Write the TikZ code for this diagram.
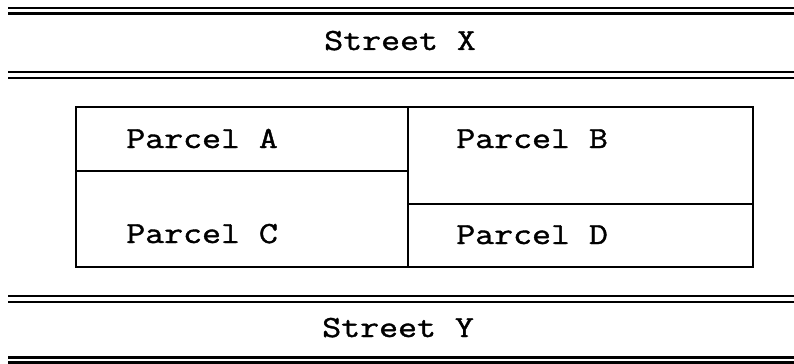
\documentclass[tikz,border=0pt]{standalone}
\usepackage{fontspec}
\newfontfamily\plotfont{Latin Modern Mono}[FakeStretch=1.2, FakeBold=1.3]
\tikzset{
  road/.style={line width=1.6pt, black},
  lot/.style={line width=1.5pt, black},
  lbl/.style={anchor=base west, inner sep=0pt, font=\plotfont\fontsize{23pt}{27pt}\selectfont}
}
\begin{document}
\begin{tikzpicture}[x=0.75pt, y=-0.75pt]
\useasboundingbox (0,0) rectangle (794,364);
% streets
\draw[road] (8,8) -- (794,8);
\draw[road] (8,13.5) -- (794,13.5);
\draw[road] (8,72) -- (794,72);
\draw[road] (8,78) -- (794,78);
\draw[road] (8,296) -- (794,296);
\draw[road] (8,302) -- (794,302);
\draw[road] (8,357.5) -- (794,357.5);
\draw[road] (8,362.5) -- (794,362.5);
\node[lbl] (sx) at (324,50) {Street X};
\node[lbl] (sy) at (322,337) {Street Y};
% parcels
\draw[lot] (76,107) rectangle (753,267);
\draw[lot] (408,107) -- (408,267);
\draw[lot] (76,171) -- (408,171);
\draw[lot] (408,204) -- (753,204);
\node[lbl] (pa) at (126,148) {Parcel A};
\node[lbl] (pc) at (126,243) {Parcel C};
\node[lbl] (pb) at (456,148) {Parcel B};
\node[lbl] (pd) at (456,244) {Parcel D};
\end{tikzpicture}
\end{document}
